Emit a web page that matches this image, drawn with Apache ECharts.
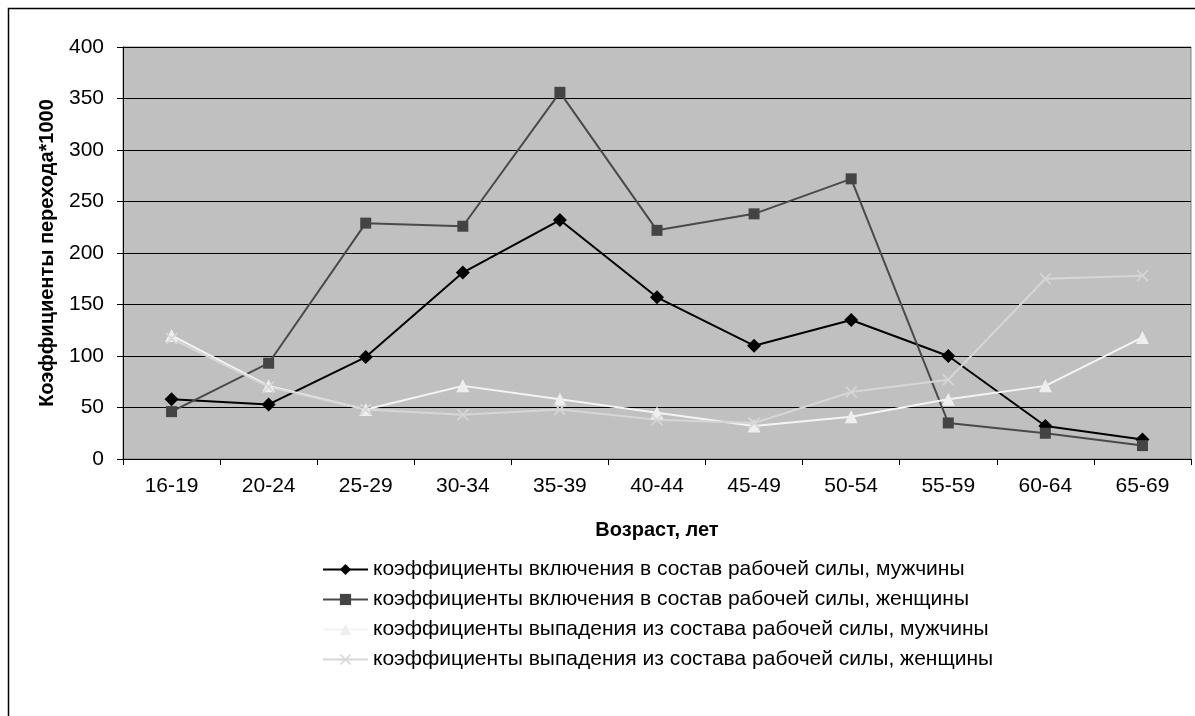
<!DOCTYPE html>
<html><head><meta charset="utf-8">
<script src="https://cdn.jsdelivr.net/npm/echarts@6/dist/echarts.min.js"></script>
<style>html,body{margin:0;padding:0;background:#fff}#c{width:1195px;height:716px}</style>
</head><body><div id="c"></div>
<script>
const categories = ['16-19','20-24','25-29','30-34','35-39','40-44','45-49','50-54','55-59','60-64','65-69'];
const menIn   = [58, 53, 99, 181, 232, 157, 110, 135, 100, 32, 19];
const womenIn = [46, 93, 229, 226, 356, 222, 238, 272, 35, 25, 13];
const menOut  = [120, 71, 48, 71, 58, 45, 32, 41, 58, 71, 118];
const womenOut= [117, 70, 48, 43, 48, 38, 35, 65, 77, 175, 178];
const seriesNames = [
  'коэффициенты включения в состав рабочей силы, мужчины',
  'коэффициенты включения в состав рабочей силы, женщины',
  'коэффициенты выпадения из состава рабочей силы, мужчины',
  'коэффициенты выпадения из состава рабочей силы, женщины'
];
const yTicks = {min:0, max:400, interval:50};

const FONT = 'Liberation Sans, Arial, sans-serif';
const xPath = 'path://M0,1L1,0L5,4L9,0L10,1L6,5L10,9L9,10L5,6L1,10L0,9L4,5Z';
const chart = echarts.init(document.getElementById('c'), null, {renderer:'canvas'});
chart.setOption({
  animation:false,
  backgroundColor:'#fff',
  textStyle:{fontFamily:FONT},
  graphic:[{type:'rect', z:100, shape:{x:8.5,y:8.5,width:1300,height:900}, style:{fill:'none',stroke:'#000',lineWidth:1.5}}],
  grid:{left:123, top:47, right:4, bottom:257, show:true, backgroundColor:'#c0c0c0', borderColor:'#808080', borderWidth:1},
  xAxis:{type:'category', data:categories, boundaryGap:true,
    name:'Возраст, лет', nameLocation:'middle', nameGap:61,
    nameTextStyle:{fontFamily:FONT, fontWeight:'bold', fontSize:20, color:'#000'},
    axisLine:{lineStyle:{color:'#000',width:1}},
    axisTick:{show:true, length:6, inside:false, lineStyle:{color:'#000'}},
    axisLabel:{fontFamily:FONT, fontSize:21, color:'#000', margin:17},
    splitLine:{show:false}},
  yAxis:{type:'value', min:yTicks.min, max:yTicks.max, interval:yTicks.interval,
    name:'Коэффициенты перехода*1000', nameLocation:'middle', nameGap:66, nameRotate:90,
    nameTextStyle:{fontFamily:FONT, fontWeight:'bold', fontSize:20, color:'#000'},
    axisLine:{show:true, lineStyle:{color:'#000',width:1}},
    axisTick:{show:true, length:6, lineStyle:{color:'#000'}},
    axisLabel:{fontFamily:FONT, fontSize:21, color:'#000', margin:19},
    splitLine:{show:true, lineStyle:{color:'#000', width:1}}},
  legend:{orient:'vertical', left:317, top:554, itemWidth:45, itemHeight:14, itemGap:9,
    textStyle:{fontFamily:FONT, fontSize:21, color:'#000'},
    data:seriesNames},
  series:[
    {name:seriesNames[0], type:'line', data:menIn, symbol:'diamond', symbolSize:14,
     lineStyle:{color:'#000', width:2}, itemStyle:{color:'#000'}},
    {name:seriesNames[1], type:'line', data:womenIn, symbol:'rect', symbolSize:11,
     lineStyle:{color:'#4a4a4a', width:2}, itemStyle:{color:'#444'}},
    {name:seriesNames[2], type:'line', data:menOut, symbol:'triangle', symbolSize:13,
     lineStyle:{color:'#f4f4f4', width:2}, itemStyle:{color:'#eeeeee'}},
    {name:seriesNames[3], type:'line', data:womenOut, symbol:xPath, symbolSize:12,
     lineStyle:{color:'#d6d6d6', width:2}, itemStyle:{color:'#d6d6d6'}}
  ]
});
</script></body></html>
